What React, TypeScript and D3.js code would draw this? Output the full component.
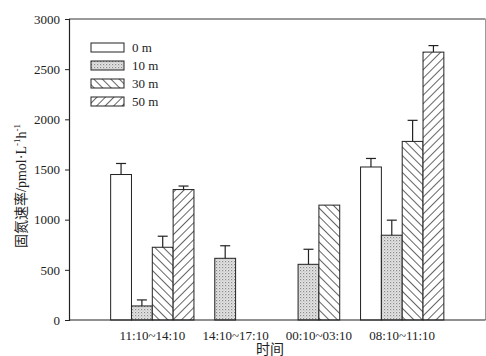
import React, { useEffect, useRef } from 'react';
import * as d3 from 'd3';

const periods = ['11:10~14:10', '14:10~17:10', '00:10~03:10', '08:10~11:10'];
const depths = ['0 m', '10 m', '30 m', '50 m'];
// null = no bar at that depth/time
const rates0 = [1450, null, null, 1525];
const rates10 = [140, 615, 555, 845];
const rates30 = [725, null, 1145, 1780];
const rates50 = [1300, null, null, 2670];
const err0 = [110, 0, 0, 85];
const err10 = [60, 125, 150, 150];
const err30 = [110, 0, 0, 210];
const err50 = [35, 0, 0, 65];
const yTicks = [0, 500, 1000, 1500, 2000, 2500, 3000];

const W = 486;
const H = 356;
const serif = "'Liberation Serif', 'Times New Roman', 'DejaVu Serif', serif";
const cjk = "'Liberation Serif', 'Noto Sans CJK SC', serif";

const App = () => {
  const svgRef = useRef(null);

  useEffect(() => {
    const svg = d3.select(svgRef.current);
    svg.selectAll('*').remove();

    const left = 69;
    const right = 485.5;
    const top = 19;
    const bottom = 320;

    const series = [rates0, rates10, rates30, rates50];
    const errs = [err0, err10, err30, err50];
    const fills = ['#fff', 'url(#p10)', 'url(#p30)', 'url(#p50)'];

    // patterns
    const defs = svg.append('defs');
    const dots = defs
      .append('pattern')
      .attr('id', 'p10')
      .attr('patternUnits', 'userSpaceOnUse')
      .attr('width', 3)
      .attr('height', 3);
    dots.append('rect').attr('width', 3).attr('height', 3).attr('fill', '#e4e4e4');
    dots.append('rect').attr('x', 0).attr('y', 0).attr('width', 1.2).attr('height', 1.2).attr('fill', '#8a8a8a');
    dots.append('rect').attr('x', 1.5).attr('y', 1.5).attr('width', 1).attr('height', 1).attr('fill', '#aaa');

    const hatch = (id, angle) => {
      const p = defs
        .append('pattern')
        .attr('id', id)
        .attr('patternUnits', 'userSpaceOnUse')
        .attr('width', 6)
        .attr('height', 6)
        .attr('patternTransform', `rotate(${angle})`);
      p.append('rect').attr('width', 6).attr('height', 6).attr('fill', '#fff');
      p.append('line')
        .attr('x1', 0)
        .attr('y1', 0)
        .attr('x2', 0)
        .attr('y2', 6)
        .attr('stroke', '#222')
        .attr('stroke-width', 1.4);
    };
    hatch('p30', -45);
    hatch('p50', 45);

    const x = d3.scaleBand().domain(periods).range([left, right]).paddingInner(0).paddingOuter(0.5);
    const x1 = d3.scaleBand().domain(d3.range(depths.length)).range([0, x.bandwidth()]);
    const y = d3.scaleLinear().domain([0, 3000]).range([bottom, top]);

    const g = svg.append('g');

    // bars
    series.forEach((vals, si) => {
      vals.forEach((v, pi) => {
        if (v == null) return;
        const bx = x(periods[pi]) + x1(si);
        const bw = x1.bandwidth();
        g.append('rect')
          .attr('x', bx)
          .attr('y', y(v))
          .attr('width', bw)
          .attr('height', bottom - y(v))
          .attr('fill', fills[si])
          .attr('stroke', '#222')
          .attr('stroke-width', 1);
        const e = errs[si][pi];
        if (e > 0) {
          const cx = bx + bw / 2;
          g.append('line')
            .attr('x1', cx)
            .attr('x2', cx)
            .attr('y1', y(v))
            .attr('y2', y(v + e))
            .attr('stroke', '#222')
            .attr('stroke-width', 1.2);
          g.append('line')
            .attr('x1', cx - 5)
            .attr('x2', cx + 5)
            .attr('y1', y(v + e))
            .attr('y2', y(v + e))
            .attr('stroke', '#222')
            .attr('stroke-width', 1.2);
        }
      });
    });

    // frame
    g.append('line').attr('x1', left).attr('x2', right).attr('y1', top).attr('y2', top)
      .attr('stroke', '#777').attr('stroke-width', 1.5);
    g.append('line').attr('x1', right).attr('x2', right).attr('y1', top).attr('y2', bottom)
      .attr('stroke', '#999').attr('stroke-width', 1);
    g.append('line').attr('x1', left).attr('x2', right).attr('y1', bottom).attr('y2', bottom)
      .attr('stroke', '#222').attr('stroke-width', 1.2);

    // y axis
    const yAxis = g
      .append('g')
      .attr('transform', `translate(${left},0)`)
      .call(d3.axisLeft(y).tickValues(yTicks).tickFormat(d3.format('d')).tickSize(4).tickPadding(5));
    yAxis.attr('font-family', null).attr('font-size', null);
    yAxis.select('.domain').attr('stroke', '#222').attr('stroke-width', 1.2);
    yAxis.selectAll('.tick line').attr('stroke', '#222');
    yAxis.selectAll('text')
      .style('font-family', serif)
      .style('font-size', '13px')
      .attr('fill', '#222');

    // x labels
    g.selectAll('.xl')
      .data(periods)
      .enter()
      .append('text')
      .attr('class', 'xl')
      .attr('x', (d) => x(d) + x.bandwidth() / 2)
      .attr('y', 340)
      .attr('text-anchor', 'middle')
      .style('font-family', serif)
      .style('font-size', '13px')
      .attr('fill', '#222')
      .text((d) => d);

    g.append('text')
      .attr('x', 270)
      .attr('y', 354)
      .attr('text-anchor', 'middle')
      .style('font-family', cjk)
      .style('font-size', '14px')
      .attr('fill', '#222')
      .text('时间');

    // y title
    const yt = g
      .append('text')
      .attr('transform', 'translate(26,186) rotate(-90)')
      .attr('text-anchor', 'middle')
      .style('font-family', cjk)
      .style('font-size', '14px')
      .attr('fill', '#222');
    yt.append('tspan').text('固氮速率/pmol·L');
    yt.append('tspan').style('font-size', '9px').attr('dy', -6).text('-1');
    yt.append('tspan').attr('dy', 6).text('h');
    yt.append('tspan').style('font-size', '9px').attr('dy', -6).text('-1');

    // legend
    const lg = g.append('g').attr('transform', 'translate(91,43)');
    depths.forEach((d, i) => {
      lg.append('rect')
        .attr('x', 0)
        .attr('y', i * 18)
        .attr('width', 33)
        .attr('height', 9)
        .attr('fill', fills[i])
        .attr('stroke', '#222')
        .attr('stroke-width', 1);
      lg.append('text')
        .attr('x', 41)
        .attr('y', i * 18 + 9)
        .style('font-family', serif)
        .style('font-size', '13px')
        .attr('fill', '#222')
        .text(d);
    });
  }, []);

  return (
    <div style={{ position: 'absolute', left: 0, top: 0 }}>
      <svg ref={svgRef} width={W} height={H} style={{ display: 'block', background: '#fff' }} />
    </div>
  );
};

export default App;
